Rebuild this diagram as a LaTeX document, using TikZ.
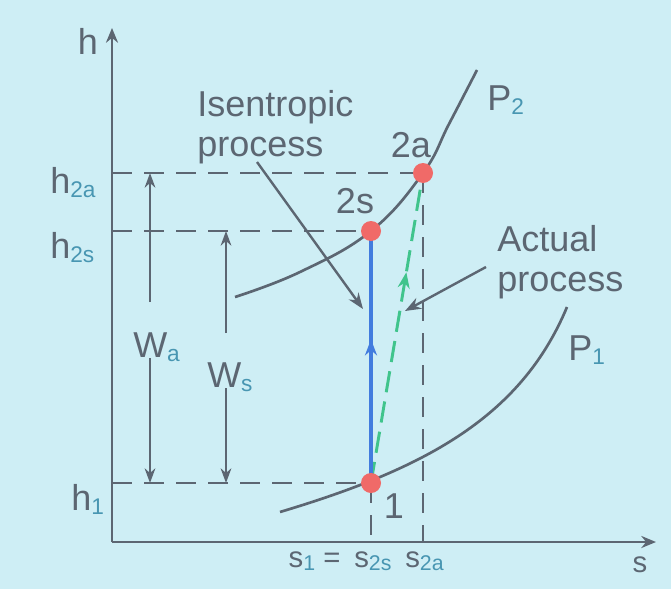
\documentclass[tikz,border=0pt]{standalone}
\usepackage{fontspec}
\setmainfont{Liberation Sans}
\usetikzlibrary{arrows.meta,decorations.markings,positioning,calc}
\definecolor{bgcol}{RGB}{206,238,245}
\definecolor{inkcol}{RGB}{92,102,114}
\definecolor{subcol}{RGB}{72,150,178}
\definecolor{ptcol}{RGB}{240,106,104}
\definecolor{isecol}{RGB}{66,124,222}
\definecolor{actcol}{RGB}{64,196,140}
% subscripts in the teal of the labels
\newcommand{\lsub}[1]{\raisebox{-0.25ex}{\fontsize{17}{17}\selectfont\color{subcol}#1}}
\newcommand{\ssub}[1]{\raisebox{-0.2ex}{\fontsize{16}{16}\selectfont\color{subcol}#1}}
\tikzset{
  % axis line
  axis/.style={draw=inkcol, line width=2.2pt, -{Stealth[length=11pt,width=9pt]}},
  % dashed guide to the axes
  guide/.style={draw=inkcol, line width=2pt, dash pattern=on 15pt off 9pt},
  % isobar curve
  isobar/.style={draw=inkcol, line width=2pt},
  % state point
  statept/.style={circle, fill=ptcol, inner sep=0pt, minimum size=15pt},
  % arrow at a given position along the path
  directed/.style={
    decoration={markings, mark=at position #1 with {\arrow{Stealth[length=12pt,width=9pt]}}},
    postaction={decorate}
  },
  directed/.default={0.55},
  % work arrow
  workarrow/.style={draw=inkcol, line width=1.8pt, -{Stealth[length=11pt,width=8pt]}},
  % pointer from a label
  pointer/.style={draw=inkcol, line width=1.8pt, -{Stealth[length=12pt,width=9pt]}},
  % text
  lbl/.style={text=inkcol, font=\fontsize{27}{30}\selectfont, inner sep=0pt},
  slbl/.style={text=inkcol, font=\fontsize{22}{24}\selectfont, inner sep=0pt},
}

\begin{document}
\begin{tikzpicture}[x=0.75pt, y=-0.75pt]
  \fill[bgcol] (0,0) rectangle (671,589);
  \useasboundingbox (0,0) rectangle (671,589);

  % axes
  \coordinate (O) at (112,542);
  \coordinate (htop) at (112,28);
  \coordinate (send) at (656,542);
  \draw[axis] (O) -- (htop);
  \draw[axis] (O) -- (send);
  \node[lbl] (hlbl) at (88,41) {h};
  \node[slbl, anchor=base] (slbl) at (640,572) {s};

  % isobars
  \draw[isobar] plot[smooth, tension=0.7] coordinates
    {(235,297) (300,272) (371,231) (423,173) (449,124) (477,70)};
  \draw[isobar] (280,512) .. controls (420,470) and (520,420) .. (567,307);
  \node[lbl, anchor=base west] (P2) at (487,110) {P\lsub{2}};
  \node[lbl, anchor=base west] (P1) at (568,360) {P\lsub{1}};

  % state points
  \coordinate (st1) at (371,483);
  \coordinate (st2s) at (371,231);
  \coordinate (st2a) at (423,173);

  % guides
  \draw[guide] (O |- st2a) -- (st2a);
  \draw[guide] (O |- st2s) -- (st2s);
  \draw[guide] (O |- st1) -- (st1);
  \draw[guide] (st2a) -- (st2a |- O);
  \draw[guide] (st1) -- (st1 |- O);

  % processes
  \draw[actcol, line width=2.2pt, dash pattern=on 16pt off 7pt, directed=0.68] (st1) -- (st2a);
  \draw[isecol, line width=3pt, directed=0.57] (st1) -- (st2s);

  \node[statept] (n1) at (st1) {};
  \node[statept] (n2s) at (st2s) {};
  \node[statept] (n2a) at (st2a) {};
  \node[lbl, anchor=base] (l1) at (394,518) {1};
  \node[lbl, anchor=base] (l2s) at (355,213) {2s};
  \node[lbl, anchor=base] (l2a) at (411,157) {2a};

  % enthalpy labels
  \node[lbl, anchor=base west] (h2a) at (50,193) {h\lsub{2a}};
  \node[lbl, anchor=base west] (h2s) at (50,258) {h\lsub{2s}};
  \node[lbl, anchor=base west] (h1) at (71,510) {h\lsub{1}};

  % entropy labels
  \node[slbl, anchor=base west] (s2s) at (354,567) {s\ssub{2s}};
  \node[slbl, anchor=base west] (s2a) at (405,567) {s\ssub{2a}};
  \node[slbl, base left=10pt of s2s] (s1) {s\ssub{1} =};

  % work
  \node[lbl, anchor=base west] (wa) at (133,357) {W\lsub{a}};
  \node[lbl, anchor=base west] (ws) at (207,387) {W\lsub{s}};
  \coordinate (wa up) at (150,302);
  \coordinate (wa dn) at (150,358);
  \coordinate (ws up) at (226,333);
  \coordinate (ws dn) at (226,388);
  \draw[workarrow] (wa up) -- (wa up |- st2a);
  \draw[workarrow] (wa dn) -- (wa dn |- st1);
  \draw[workarrow] (ws up) -- (ws up |- st2s);
  \draw[workarrow] (ws dn) -- (ws dn |- st1);

  % process labels
  \node[lbl, align=left, anchor=north west] (isen) at (197,90) {Isentropic\\process};
  \node[lbl, align=left, anchor=north west] (act) at (497,225) {Actual\\process};
  \coordinate (isen tail) at (257,162);
  \coordinate (isen tip) at (363,309);
  \coordinate (act tail) at (486,267);
  \coordinate (act tip) at (405,311);
  \draw[pointer] (isen tail) -- (isen tip);
  \draw[pointer] (act tail) -- (act tip);
\end{tikzpicture}
\end{document}
